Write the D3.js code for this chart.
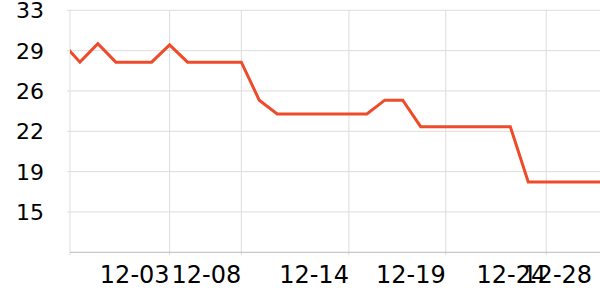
<!DOCTYPE html>
<html lang="en">
<head>
  <meta charset="UTF-8">
  <title>Daily line</title>
  <script src="https://d3js.org/d3.v7.min.js"></script>
  <style>
    body { margin: 0; background: #fff; }
    svg { display: block; font-family: "DejaVu Sans", sans-serif; }
    .grid line { stroke: #dddddd; stroke-width: 1; }
    .axis-line { stroke: #bbbbbb; stroke-width: 1; }
  </style>
</head>
<body>
  <div id="chart"></div>
  <script>
    // one value per day, Dec 1 .. Dec 31
    var days = d3.range(1, 32).map(function(d) { return new Date(2023, 11, d); });
    var values = [30.0, 28.3, 29.9, 28.3, 28.3, 28.3, 29.8, 28.3, 28.3, 28.3,
                  28.3, 25.0, 23.8, 23.8, 23.8, 23.8, 23.8, 23.8, 25.0, 25.0,
                  22.7, 22.7, 22.7, 22.7, 22.7, 22.7, 17.9, 17.9, 17.9, 17.9, 17.9];

    var yTickValues = [32.8, 29.3, 25.8, 22.3, 18.8, 15.3];
    var yDomain = [11.8, 32.8];

    // day offsets (from Dec 1) where the vertical grid / labels sit
    var xGridDays = [6, 10, 16, 21.4, 27];
    var xLabelDays = [6, 10, 16, 21.4, 27, 29.56];
    var xTickLabels = ["12-03", "12-08", "12-14", "12-19", "12-24", "12-28"];

    var width = 600, height = 300;
    var plotLeft = 70, plotRight = 600, plotTop = 10.3, plotBottom = 252.3;

    var svg = d3.select("#chart").append("svg")
      .attr("width", width)
      .attr("height", height);

    var x = d3.scaleTime()
      .domain([days[0], days[days.length - 1]])
      .range([62, plotRight]);

    var y = d3.scaleLinear()
      .domain(yDomain)
      .range([plotBottom, plotTop]);

    function dayAt(offset) {
      return new Date(days[0].getTime() + offset * 864e5);
    }

    // horizontal grid
    var gy = svg.append("g").attr("class", "grid");
    gy.selectAll("line").data(yTickValues).enter().append("line")
      .attr("x1", plotLeft - 3).attr("x2", plotRight)
      .attr("y1", function(d) { return y(d); })
      .attr("y2", function(d) { return y(d); });

    // vertical grid
    var gx = svg.append("g").attr("class", "grid");
    gx.selectAll("line").data(xGridDays).enter().append("line")
      .attr("x1", function(d) { return x(dayAt(d)); })
      .attr("x2", function(d) { return x(dayAt(d)); })
      .attr("y1", plotTop).attr("y2", plotBottom + 3);
    gx.append("line")
      .attr("x1", plotLeft).attr("x2", plotLeft)
      .attr("y1", plotTop).attr("y2", plotBottom + 3);

    // x axis baseline
    svg.append("line").attr("class", "axis-line")
      .attr("x1", plotLeft).attr("x2", plotRight)
      .attr("y1", plotBottom).attr("y2", plotBottom);

    // y labels
    var fmt = d3.format(".0f");
    svg.append("g").selectAll("text").data(yTickValues).enter().append("text")
      .attr("x", 44)
      .attr("y", function(d) { return y(d); })
      .attr("dy", "0.36em")
      .attr("text-anchor", "end")
      .attr("font-size", 22)
      .attr("fill", "#000")
      .text(function(d) { return fmt(d); });

    // x labels
    svg.append("g").selectAll("text").data(xLabelDays).enter().append("text")
      .attr("x", function(d) { return x(dayAt(d)); })
      .attr("y", 283)
      .attr("text-anchor", "end")
      .attr("font-size", 24)
      .attr("fill", "#000")
      .text(function(d, i) { return xTickLabels[i]; });

    // line, clipped to the plot area
    svg.append("clipPath").attr("id", "clip")
      .append("rect")
      .attr("x", plotLeft).attr("y", 0)
      .attr("width", plotRight - plotLeft).attr("height", height);

    var line = d3.line()
      .x(function(d, i) { return x(days[i]); })
      .y(function(d) { return y(d); });

    svg.append("path")
      .datum(values)
      .attr("clip-path", "url(#clip)")
      .attr("fill", "none")
      .attr("stroke", "#ee4b2b")
      .attr("stroke-width", 3)
      .attr("stroke-linejoin", "miter")
      .attr("d", line);
  </script>
</body>
</html>
